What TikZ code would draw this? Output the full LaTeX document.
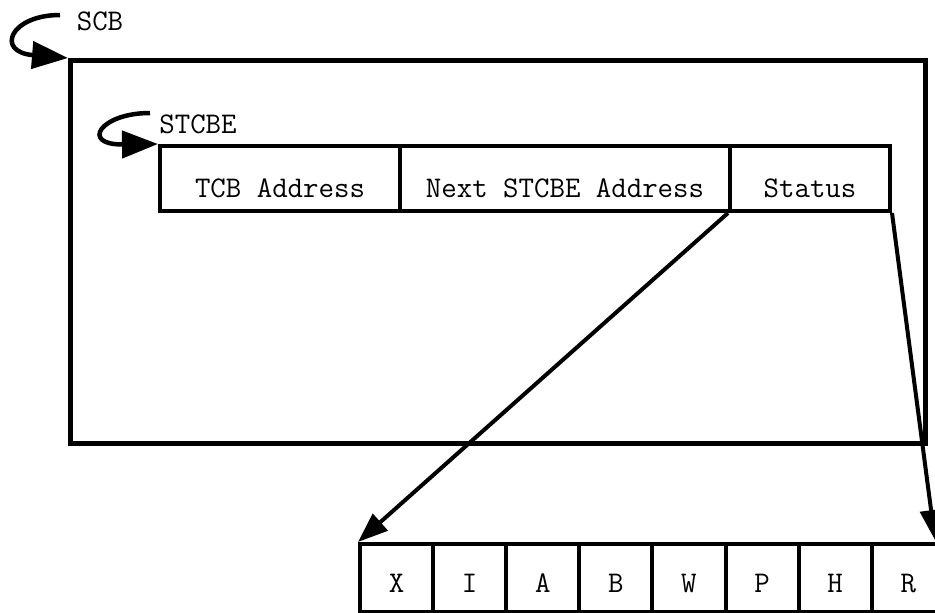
\documentclass[tikz,border=0pt]{standalone}
\usepackage{fontspec}
\setmonofont{Latin Modern Mono}
\usetikzlibrary{arrows.meta}
\begin{document}
\begin{tikzpicture}[x=1pt,y=-1pt,
  every node/.style={font=\ttfamily\fontsize{30}{34}\selectfont},
  box/.style={draw, line width=4pt, inner sep=0pt},
  field/.style={box, anchor=north west, minimum height=65pt, text height=51pt, text depth=14pt},
  bitcell/.style={box, anchor=north west, minimum width=73.1pt, minimum height=68pt, text height=48pt, text depth=20pt},
  ptr/.style={line width=4pt, -{Triangle[length=30pt,width=22pt]}},
  curptr/.style={line width=4.5pt, -{Triangle[length=36pt,width=27pt]}},
  lbl/.style={inner sep=0pt}]
\clip (0,0) rectangle (935,613);
% outer SCB box
\node[box, line width=5pt, anchor=north west, minimum width=855pt, minimum height=383pt] (scb) at (68,58) {};
% STCBE fields
\node[field, minimum width=240pt] (tcb) at (158,144) {TCB Address};
\node[field, minimum width=330pt] (nxt) at (398,144) {Next STCBE Address};
\node[field, minimum width=160pt] (stat) at (728,144) {Status};
% labels
\node[lbl] (scblbl) at (100,21) {SCB};
\node[lbl] (stlbl) at (198,124) {STCBE};
% status bits
\foreach \t [count=\i] in {X,I,A,B,W,P,H,R}
  \node[bitcell] (b\i) at ({358+73.1*(\i-1)},542) {\t};
% pointers
\coordinate (rtip) at (935,540);
\draw[ptr] (stat.south west) -- (b1.north west);
\draw[ptr] (stat.south east) -- (rtip);
\coordinate (scbstart) at (60,15);
\draw[curptr] (scbstart) .. controls (10,15) and (-5,52) .. (scb.north west);
\coordinate (ststart) at (150,113);
\draw[curptr] (ststart) .. controls (100,113) and (80,145) .. (tcb.north west);
\end{tikzpicture}
\end{document}
